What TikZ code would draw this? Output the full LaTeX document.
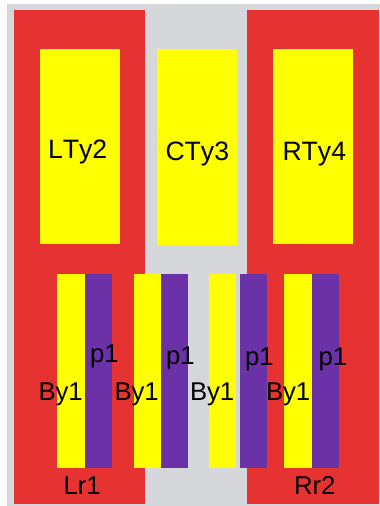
\documentclass[tikz,border=0pt]{standalone}
\usepackage{fontspec}
\setmainfont[Kerning=Off]{Liberation Sans}
\definecolor{bgray}{HTML}{D6D7DB}
\definecolor{bred}{HTML}{E73232}
\definecolor{bpurple}{HTML}{6A32A6}
\definecolor{byellow}{HTML}{FFFF00}
\tikzset{
  redblock/.style={fill=bred,draw=none},
  yelblock/.style={fill=byellow,draw=none},
  purblock/.style={fill=bpurple,draw=none},
  lbl/.style={anchor=base west,inner sep=0pt,outer sep=0pt,text=black,font=\fontsize{25.7}{26}\selectfont},
  toplbl/.style={lbl,font=\fontsize{26.6}{27}\selectfont}
}
\begin{document}
\begin{tikzpicture}[x=1pt,y=-1pt]
\useasboundingbox (0,0) rectangle (380,506);
\fill[bgray] (7,4) rectangle (380,506);
\fill[redblock] (14.3,10) rectangle (145.3,503.7);
\fill[redblock] (247.3,10) rectangle (379,503.7);
\fill[yelblock] (40,49) rectangle (120,243.7);
\fill[yelblock] (157.3,49.3) rectangle (237.3,245.3);
\fill[yelblock] (273,49) rectangle (353,243.7);
\fill[yelblock] (56.5,273.7) rectangle (84.5,468.3);
\fill[purblock] (84.5,273.7) rectangle (112,468.3);
\fill[yelblock] (134,273.7) rectangle (161,468.3);
\fill[purblock] (161,273.7) rectangle (187.7,468.3);
\fill[yelblock] (209.3,273.7) rectangle (235.7,468.3);
\fill[purblock] (240,273.7) rectangle (267,468.3);
\fill[yelblock] (284.3,273.7) rectangle (312.3,468.3);
\fill[purblock] (312.3,273.7) rectangle (338.7,468.3);
\node[toplbl] (lty) at (48,158) {LTy2};
\node[toplbl] (cty) at (165.5,160) {CTy3};
\node[toplbl] (rty) at (282.5,160) {RTy4};
\node[lbl] (b1) at (38.5,400) {By1};
\node[lbl] (b2) at (114.5,400) {By1};
\node[lbl] (b3) at (190,400) {By1};
\node[lbl] (b4) at (266,400) {By1};
\node[lbl] (p1) at (90,362) {p1};
\node[lbl] (p2) at (166,364) {p1};
\node[lbl] (p3) at (245,365) {p1};
\node[lbl] (p4) at (318.5,365) {p1};
\node[lbl] (lr) at (63.5,494.5) {Lr1};
\node[lbl] (rr) at (294,494) {Rr2};
\end{tikzpicture}
\end{document}
